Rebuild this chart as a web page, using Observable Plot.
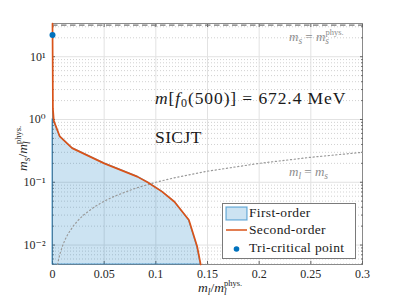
<!DOCTYPE html>
<html><head><meta charset="utf-8">
<script src="https://cdn.jsdelivr.net/npm/d3@7"></script>
<script src="https://cdn.jsdelivr.net/npm/@observablehq/plot@0.6"></script>
<style>body{margin:0;background:#fff} svg{display:block} svg text, svg tspan{font-family: "Liberation Serif", "Times New Roman", "DejaVu Serif", serif !important;}</style>
</head><body><div id="chart"></div>
<script>
// Second-order line (m_l/m_l^phys, m_s/m_l^phys)
const secondOrderMl = [0, 0.0004, 0.0013, 0.007, 0.019, 0.05, 0.082, 0.092, 0.106, 0.118, 0.132, 0.140, 0.1434];
const secondOrderMs = [33.8, 1.5, 0.95, 0.54, 0.35, 0.2, 0.123, 0.1, 0.071, 0.049, 0.025, 0.0095, 0.0049];
// First-order region boundary
const firstOrderMl = [0.1434, 0.140, 0.132, 0.118, 0.106, 0.092, 0.082, 0.05, 0.019, 0.007, 0.0013, 0];
const firstOrderMs = [0.0049, 0.0095, 0.025, 0.049, 0.071, 0.1, 0.123, 0.2, 0.35, 0.54, 0.95, 1.0];
// Tri-critical point
const triMl = [0];
const triMs = [22.1];
// Physical strange mass line
const msPhys = [31.9];
// m_l = m_s reference line sample points
const mlEqMs = [0.0049, 0.006, 0.0075, 0.01, 0.0125, 0.015, 0.02, 0.025, 0.03, 0.04, 0.05, 0.06, 0.08, 0.1, 0.12, 0.15, 0.2, 0.25, 0.3];
// Ticks
const xTicks = [0, 0.05, 0.1, 0.15, 0.2, 0.25, 0.3];
const xTickLabels = ["0", "0.05", "0.1", "0.15", "0.2", "0.25", "0.3"];
const yTicks = [0.01, 0.1, 1, 10];
const yTickLabels = ["10⁻²", "10⁻¹", "10⁰", "10¹"];
const yMinor = [0.005,0.006,0.007,0.008,0.009,0.02,0.03,0.04,0.05,0.06,0.07,0.08,0.09,
  0.2,0.3,0.4,0.5,0.6,0.7,0.8,0.9,2,3,4,5,6,7,8,9,20,30];

const secondOrder = secondOrderMl.map((x, i) => ({ml: x, ms: secondOrderMs[i]}));
const firstOrder = firstOrderMl.map((x, i) => ({ml: x, ms: firstOrderMs[i]}));
const tri = triMl.map((x, i) => ({ml: x, ms: triMs[i]}));

const BLUE = "#0072BD", RED = "#D95319";
const FONT = "Liberation Serif, Times New Roman, DejaVu Serif, serif";

const plot = Plot.plot({
  width: 399, height: 299,
  marginLeft: 52, marginRight: 37, marginTop: 23, marginBottom: 35,
  style: {fontFamily: FONT, fontSize: "12px", color: "#262626", background: "#fff"},
  x: {domain: [0, 0.3], label: null},
  y: {type: "log", domain: [0.0049, 33.8], label: null},
  marks: [
    Plot.ruleY(yMinor, {stroke: "#bdbdbd", strokeDasharray: "1,2", strokeWidth: 0.7}),
    Plot.ruleY(yTicks, {stroke: "#e2e2e2", strokeWidth: 1}),
    Plot.ruleX(xTicks, {stroke: "#e2e2e2", strokeWidth: 1}),
    Plot.frame({stroke: "#8a8a8a", strokeWidth: 1}),
    Plot.axisX(xTicks, {anchor: "bottom", tickSize: -3, tickPadding: 8, stroke: "#666",
      tickFormat: (d) => xTickLabels[xTicks.indexOf(d)], fill: "#262626", fontSize: 12, label: null}),
    Plot.axisX(xTicks, {anchor: "top", tickSize: -3, stroke: "#666", tickFormat: () => "", label: null}),
    Plot.axisY(yTicks, {anchor: "left", tickSize: -3, tickPadding: 10, stroke: "#666",
      tickFormat: d => yTickLabels[yTicks.indexOf(d)], fill: "#262626", fontSize: 12, label: null}),
    Plot.axisY(yMinor, {anchor: "left", tickSize: -1.8, stroke: "#666", tickFormat: () => "", label: null}),
    Plot.axisY(yTicks, {anchor: "right", tickSize: -3, stroke: "#666", tickFormat: () => "", label: null}),
    Plot.axisY(yMinor, {anchor: "right", tickSize: -1.8, stroke: "#666", tickFormat: () => "", label: null}),
    Plot.areaX(firstOrder, {y: "ms", x1: 0, x2: "ml", fill: BLUE, fillOpacity: 0.2, stroke: BLUE, strokeOpacity: 0.55, strokeWidth: 1.2}),
    Plot.line(mlEqMs, {x: d => d, y: d => d, stroke: "#9a9a9a", strokeWidth: 1.2, strokeDasharray: "1.2,2.6"}),
    Plot.ruleY(msPhys, {stroke: "#777", strokeWidth: 1.4, strokeDasharray: "5.5,3.5"}),
    Plot.line(secondOrder, {x: "ml", y: "ms", stroke: RED, strokeWidth: 1.7}),
    Plot.dot(tri, {x: "ml", y: "ms", r: 3, fill: BLUE})
  ]
});
document.getElementById("chart").appendChild(plot);

const svg = d3.select(plot);
const g = svg.append("g").attr("font-family", FONT).attr("text-anchor", "start");

// rich text helper
function rich(x, y, size, fill, parts, extra = {}) {
  const t = g.append("text").attr("x", x).attr("y", y).attr("font-size", size).attr("fill", fill)
    .attr("text-anchor", "start").style("font-family", FONT);
  for (const [k, v] of Object.entries(extra)) t.attr(k, v);
  for (const p of parts) {
    const s = t.append("tspan").text(p.t);
    if (p.it) s.attr("font-style", "italic");
    if (p.sz) s.attr("font-size", p.sz);
    if (p.dy) s.attr("dy", p.dy);
    if (p.dx) s.attr("dx", p.dx);
  }
  return t;
}

// x label: m_l / m_l^{phys.}
rich(198, 292, 13.5, "#262626", [
  {t: "m", it: true}, {t: "l", it: true, sz: 9.5, dy: 3}, {t: "/", dy: -3},
  {t: "m", it: true}, {t: "l", it: true, sz: 9.5, dy: 3}, {t: "phys.", sz: 8.5, dy: -9, dx: -2.6}
]);
// y label
rich(0, 0, 13.5, "#262626", [
  {t: "m", it: true}, {t: "s", it: true, sz: 9.5, dy: 3}, {t: "/", dy: -3},
  {t: "m", it: true}, {t: "l", it: true, sz: 9.5, dy: 3}, {t: "phys.", sz: 8.5, dy: -9, dx: -2.6}
], {transform: "translate(27,171) rotate(-90)"});

// main annotation
rich(155, 104, 17.5, "#1a1a1a", [
  {t: "m", it: true}, {t: "["}, {t: "f", it: true}, {t: "0", sz: 12, dy: 3}, {t: "(500)] = 672.4 MeV", dy: -3}
], {"letter-spacing": "0.9px"});
rich(155, 143, 17.5, "#1a1a1a", [{t: "SICJT"}], {"letter-spacing": "0.4px"});

// gray labels
rich(289, 41, 13, "#8c8c8c", [
  {t: "m", it: true}, {t: "s", it: true, sz: 9.5, dy: 3}, {t: " = ", dy: -3},
  {t: "m", it: true}, {t: "s", it: true, sz: 9.5, dy: 3}, {t: "phys.", sz: 8.5, dy: -9, dx: -3.5}
]);
rich(289, 176, 13, "#8c8c8c", [
  {t: "m", it: true}, {t: "l", it: true, sz: 9.5, dy: 3}, {t: " = ", dy: -3},
  {t: "m", it: true}, {t: "s", it: true, sz: 9.5, dy: 3}
]);

// legend
const lg = g.append("g");
lg.append("rect").attr("x", 222.5).attr("y", 203.5).attr("width", 133).attr("height", 55)
  .attr("fill", "#fff").attr("stroke", "#7a7a7a").attr("stroke-width", 1);
lg.append("rect").attr("x", 226).attr("y", 207).attr("width", 21).attr("height", 13)
  .attr("fill", BLUE).attr("fill-opacity", 0.2).attr("stroke", BLUE).attr("stroke-opacity", 0.55).attr("stroke-width", 1.2);
lg.append("line").attr("x1", 226).attr("x2", 247).attr("y1", 230).attr("y2", 230)
  .attr("stroke", RED).attr("stroke-width", 1.5);
lg.append("circle").attr("cx", 236.5).attr("cy", 249).attr("r", 2.8).attr("fill", BLUE);
const legendLabels = ["First-order", "Second-order", "Tri-critical point"];
const legendY = [217, 234, 252];
legendLabels.forEach((s, i) => rich(249, legendY[i], 13.5, "#1a1a1a", [{t: s}], {"letter-spacing": "0.35px"}));
</script>
</body></html>
